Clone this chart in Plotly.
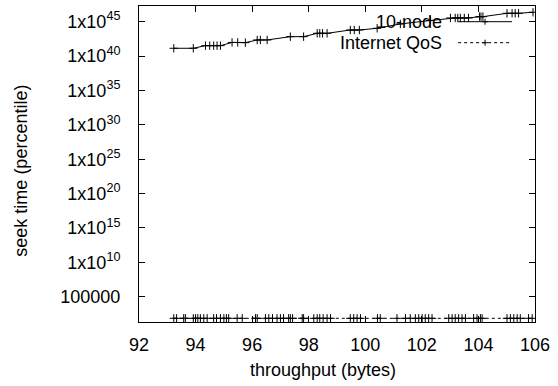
import plotly.graph_objects as go

# ---- data ----
node10_x = [93.23, 93.92, 94.35, 94.50, 94.64, 94.76, 94.88, 95.29, 95.49, 95.76,
            96.18, 96.29, 96.53, 97.35, 97.82, 98.30, 98.39, 98.49, 98.65, 99.47,
            99.61, 99.79, 100.42, 101.24, 102.30, 103.01, 103.18, 103.27, 103.36,
            103.50, 103.65, 104.04, 104.09, 104.16, 105.01, 105.19, 105.30, 105.42,
            105.93]
node10_log = [41.13, 41.13, 41.51, 41.51, 41.51, 41.51, 41.51, 41.98, 41.98, 41.95,
              42.34, 42.34, 42.34, 42.82, 42.82, 43.31, 43.31, 43.31, 43.31, 43.79,
              43.79, 43.79, 44.04, 44.67, 45.17, 45.54, 45.54, 45.54, 45.54,
              45.54, 45.54, 45.73, 45.73, 45.73, 46.22, 46.22, 46.22, 46.22,
              46.37]
node10_y = [10 ** v for v in node10_log]

qos_x = [93.23, 93.33, 93.58, 93.64, 93.92, 94.00, 94.08, 94.17, 94.29, 94.41,
         94.64, 94.74, 94.88, 95.00, 95.09, 95.17, 95.47, 95.65, 96.12, 96.18,
         96.47, 96.59, 96.72, 96.88, 97.00, 97.11, 97.29, 97.35, 97.43, 97.77,
         97.82, 98.18, 98.30, 98.39, 98.51, 98.65, 98.77, 99.47, 99.59, 99.71,
         99.83, 100.43, 100.53, 101.12, 101.42, 101.59, 101.77, 101.89, 102.01,
         102.12, 102.24, 102.36, 102.95, 103.07, 103.18, 103.30, 103.42, 103.54,
         103.83, 103.95, 104.07, 104.13, 105.01, 105.13, 105.25, 105.37, 105.48,
         105.77, 105.90]
qos_y = [72] * len(qos_x)

x_ticks = [92, 94, 96, 98, 100, 102, 104, 106]
y_ticks = [1e5, 1e10, 1e15, 1e20, 1e25, 1e30, 1e35, 1e40, 1e45]
y_ticklabels = ["100000", "1x10<sup>10</sup>", "1x10<sup>15</sup>", "1x10<sup>20</sup>",
                "1x10<sup>25</sup>", "1x10<sup>30</sup>", "1x10<sup>35</sup>",
                "1x10<sup>40</sup>", "1x10<sup>45</sup>"]
series_names = ["10-node", "Internet QoS"]
x_title = "throughput (bytes)"
y_title = "seek time (percentile)"

FONT = "Liberation Sans, Arial, sans-serif"

fig = go.Figure()
fig.add_trace(go.Scatter(
    x=node10_x, y=node10_y, mode="lines+markers", name=series_names[0],
    line=dict(color="black", width=1),
    marker=dict(symbol="cross-thin", size=6, line=dict(color="black", width=1)),
    showlegend=False))
fig.add_trace(go.Scatter(
    x=qos_x, y=qos_y, mode="lines+markers", name=series_names[1],
    line=dict(color="black", width=1, dash="dot"),
    marker=dict(symbol="cross-thin", size=6, line=dict(color="black", width=1)),
    showlegend=False))

W, H = 558, 386
L, R, T, B = 138.5, 23, 6, 64
pw, ph = W - L - R, H - T - B

def px(xp):
    return (xp - L) / pw

def py(yp):
    return 1 - (yp - T) / ph

shapes = []
annotations = []
key_rows = [(21.7, "solid"), (42.7, "dot")]
for (yrow, dash), name in zip(key_rows, series_names):
    shapes.append(dict(type="line", xref="paper", yref="paper",
                       x0=px(458), x1=px(512), y0=py(yrow), y1=py(yrow),
                       line=dict(color="black", width=1, dash=dash)))
    shapes.append(dict(type="line", xref="paper", yref="paper",
                       x0=px(482), x1=px(488), y0=py(yrow), y1=py(yrow),
                       line=dict(color="black", width=1)))
    shapes.append(dict(type="line", xref="paper", yref="paper",
                       x0=px(485), x1=px(485), y0=py(yrow - 3), y1=py(yrow + 3),
                       line=dict(color="black", width=1)))
    annotations.append(dict(text=name, xref="paper", yref="paper",
                            x=px(444), y=py(yrow), xanchor="right", yanchor="middle",
                            showarrow=False, font=dict(family=FONT, size=18, color="black")))

annotations.append(dict(text=x_title, xref="paper", yref="paper",
                        x=px(323), y=py(370), xanchor="center", yanchor="middle",
                        showarrow=False, font=dict(family=FONT, size=18, color="black")))
annotations.append(dict(text=y_title, xref="paper", yref="paper", textangle=-90,
                        x=px(20), y=py(171), xanchor="center", yanchor="middle",
                        showarrow=False, font=dict(family=FONT, size=18, color="black")))

fig.update_layout(
    width=W, height=H, autosize=False,
    margin=dict(l=L, r=R, t=T, b=B),
    paper_bgcolor="white", plot_bgcolor="white",
    font=dict(family=FONT, size=18, color="black"),
    shapes=shapes, annotations=annotations,
    showlegend=False,
)
fig.update_xaxes(
    range=[92, 106], tickvals=x_ticks, ticks="inside", ticklen=6, tickcolor="black",
    showline=True, linecolor="black", linewidth=1, mirror="ticks", showgrid=False,
    zeroline=False, tickfont=dict(size=18), ticklabelstandoff=6,
)
fig.update_yaxes(
    type="log", range=[1.32, 47.28], tickvals=y_ticks, ticktext=y_ticklabels,
    ticks="inside", ticklen=6, tickcolor="black",
    showline=True, linecolor="black", linewidth=1, mirror="ticks", showgrid=False,
    zeroline=False, tickfont=dict(size=18), ticklabelstandoff=14,
)

fig.write_html("out.html", config={"displayModeBar": False},
               post_script="document.body.style.margin='0';document.body.style.overflow='hidden';")
